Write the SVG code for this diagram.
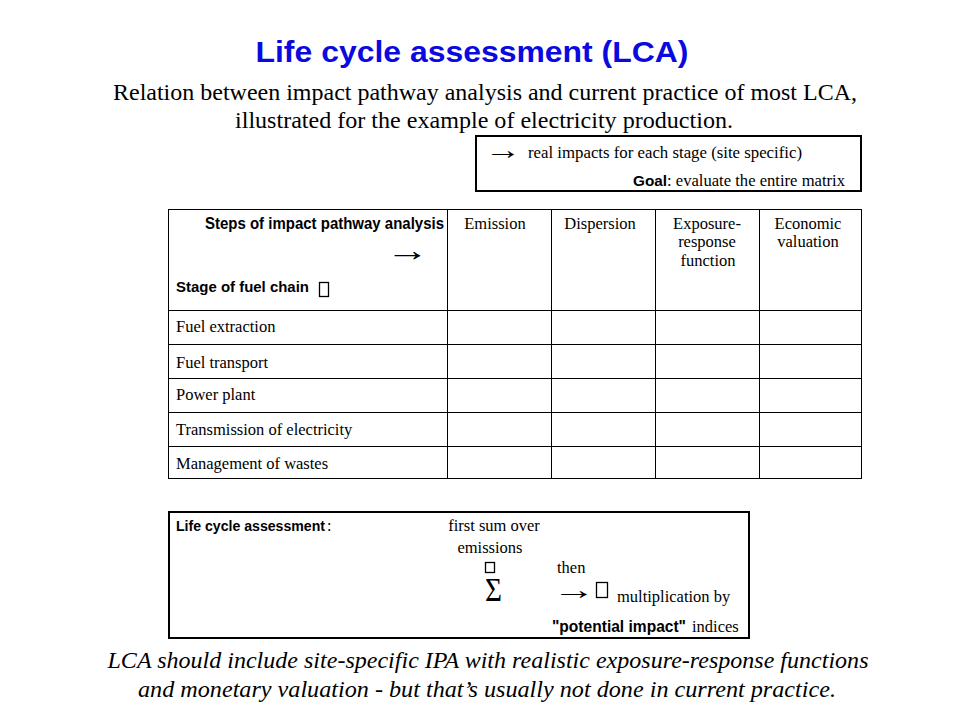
<svg xmlns="http://www.w3.org/2000/svg" width="960" height="720" viewBox="0 0 960 720">
<style>
.thick{fill:none;stroke:#000;stroke-width:2}
.thin{fill:none;stroke:#000;stroke-width:1}
.tofu{fill:none;stroke:#000;stroke-width:1.3}
</style>
<rect width="960" height="720" fill="#fff"/>
<g id="title">
<text x="472" y="62" font-family="Liberation Sans, Arial, sans-serif" font-weight="bold" font-size="29" fill="#0a0ae0" text-anchor="middle" textLength="433" lengthAdjust="spacingAndGlyphs">Life cycle assessment (LCA)</text>
</g>
<g id="subtitle" font-family="Liberation Serif, Times New Roman, serif" font-size="24" fill="#000" text-anchor="middle">
<text x="485" y="100" textLength="744" lengthAdjust="spacingAndGlyphs">Relation between impact pathway analysis and current practice of most LCA,</text>
<text x="484" y="128" textLength="498" lengthAdjust="spacingAndGlyphs">illustrated for the example of electricity production.</text>
</g>
<g id="goal-box">
<rect class="thick" x="476" y="136" width="385" height="55"/>
<text transform="translate(485,159) scale(1.35,1)" font-size="27" font-family="Liberation Serif, serif">→</text>
<text x="528" y="158" font-family="Liberation Serif, serif" font-size="17" textLength="274" lengthAdjust="spacingAndGlyphs">real impacts for each stage (site specific)</text>
<text x="633" y="186" font-family="Liberation Sans, Arial, sans-serif" font-weight="bold" font-size="15" textLength="34" lengthAdjust="spacingAndGlyphs">Goal</text>
<text x="667" y="186" font-family="Liberation Serif, serif" font-size="17" textLength="178" lengthAdjust="spacingAndGlyphs">: evaluate the entire matrix</text>
</g>
<g id="matrix">
<rect class="thin" x="168.5" y="209.5" width="693" height="269"/>
<g class="thin">
<line x1="447.5" y1="209" x2="447.5" y2="479"/>
<line x1="551.5" y1="209" x2="551.5" y2="479"/>
<line x1="655.5" y1="209" x2="655.5" y2="479"/>
<line x1="759.5" y1="209" x2="759.5" y2="479"/>
<line x1="168" y1="310.5" x2="862" y2="310.5"/>
<line x1="168" y1="344.5" x2="862" y2="344.5"/>
<line x1="168" y1="378.5" x2="862" y2="378.5"/>
<line x1="168" y1="412.5" x2="862" y2="412.5"/>
<line x1="168" y1="446.5" x2="862" y2="446.5"/>
</g>
<text x="205" y="229" font-family="Liberation Sans, Arial, sans-serif" font-weight="bold" font-size="16" textLength="239" lengthAdjust="spacingAndGlyphs">Steps of impact pathway analysis</text>
<text transform="translate(386,261) scale(1.4,1)" font-size="31" font-family="Liberation Serif, serif">→</text>
<text x="176" y="292" font-family="Liberation Sans, Arial, sans-serif" font-weight="bold" font-size="15.5" textLength="133" lengthAdjust="spacingAndGlyphs">Stage of fuel chain</text>
<rect class="tofu" x="319.5" y="282.5" width="9" height="14"/>
<g font-family="Liberation Serif, serif" font-size="16.5" text-anchor="middle">
<text x="495" y="229">Emission</text>
<text x="600" y="229">Dispersion</text>
<text x="707" y="229">Exposure-</text>
<text x="707" y="247">response</text>
<text x="708" y="266">function</text>
<text x="808" y="229">Economic</text>
<text x="808" y="247">valuation</text>
</g>
<g font-family="Liberation Serif, serif" font-size="16.5">
<text x="176" y="332">Fuel extraction</text>
<text x="176" y="368">Fuel transport</text>
<text x="176" y="400">Power plant</text>
<text x="176" y="435">Transmission of electricity</text>
<text x="176" y="469">Management of wastes</text>
</g>
</g>
<g id="lca-box">
<rect class="thick" x="169" y="512" width="580" height="126"/>
<text x="176" y="531" font-family="Liberation Sans, Arial, sans-serif" font-weight="bold" font-size="14" textLength="149" lengthAdjust="spacingAndGlyphs">Life cycle assessment</text>
<text x="327" y="531" font-family="Liberation Serif, serif" font-size="16">:</text>
<g font-family="Liberation Serif, serif" font-size="16.5">
<text x="494" y="531" text-anchor="middle">first sum over</text>
<text x="490" y="553" text-anchor="middle">emissions</text>
<text x="557" y="573">then</text>
<text x="617" y="602">multiplication by</text>
</g>
<rect class="tofu" x="485.5" y="562.5" width="9" height="10"/>
<text x="485" y="601" font-family="Liberation Serif, serif" font-size="34" textLength="17" lengthAdjust="spacingAndGlyphs">Σ</text>
<text transform="translate(552,599) scale(1.6,1)" font-size="27" font-family="Liberation Serif, serif">→</text>
<rect class="tofu" x="596.5" y="582.5" width="11" height="15"/>
<text x="552" y="632" font-family="Liberation Sans, Arial, sans-serif" font-weight="bold" font-size="16" textLength="134" lengthAdjust="spacingAndGlyphs">"potential impact"</text>
<text x="692" y="632" font-family="Liberation Serif, serif" font-size="16.5">indices</text>
</g>
<g id="conclusion" font-family="Liberation Serif, Times New Roman, serif" font-size="24" font-style="italic" text-anchor="middle">
<text x="488" y="668" textLength="761" lengthAdjust="spacingAndGlyphs">LCA should include site-specific IPA with realistic exposure-response functions</text>
<text x="487" y="697" textLength="698" lengthAdjust="spacingAndGlyphs">and monetary valuation -  but that’s usually not done in current practice.</text>
</g>
</svg>
